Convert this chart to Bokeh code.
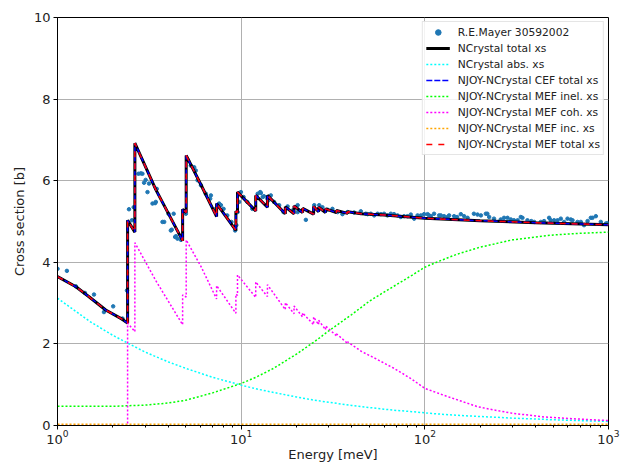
from bokeh.plotting import figure
from bokeh.models import FixedTicker, Legend
from bokeh.embed import file_html
from bokeh.resources import INLINE

# --- measured points (R.E.Mayer 30592002) --------------------------------
mayer_energy = [
    1.00, 1.125, 1.26, 1.41, 1.58, 1.79, 2.01, 2.26, 2.39, 2.45, 2.54, 2.60,
    2.76, 2.84, 2.90, 2.96, 3.02, 3.09, 3.15, 3.29, 3.40, 3.43, 3.47, 3.73,
    3.81, 4.02, 4.14, 4.19, 4.29, 4.37, 4.41, 4.50, 4.70,
    5.00, 5.14, 5.32, 5.55, 5.66, 5.79, 6.04, 6.42, 6.78, 6.84, 7.28, 7.59,
    7.76, 8.02, 8.40, 8.85, 9.27, 9.41, 9.56, 9.75, 9.97, 10.3, 10.8, 11.5,
    12.3, 12.7, 12.8, 13.1, 13.3, 13.9, 14.1, 14.5, 15.1, 16.1, 17.0, 17.9,
    19.05, 20.3, 20.3, 22.5, 25.0, 26.6, 27.7, 29.5, 31.4, 33.5, 35.6, 37.9,
    41.2, 44.8, 47.7, 48.8, 50.8, 53.0, 55.3, 57.6, 60.0, 62.6, 65.3, 68.0,
    71.0, 74.0, 77.1, 80.5, 83.9, 87.5, 91.3, 95.1, 99.1, 103.5, 105.5, 107.8,
    112.3, 119.6, 122.2, 127.4, 133.0, 135.6, 144.4, 150.0, 157.0, 163.7, 171.0,
    185.0, 193.6, 202.0, 214.8, 219.0, 224.0, 238.0, 259.0, 270.0, 282.0, 294.0,
    306.0, 320.0, 333.0, 340.0, 362.0, 380.0, 394.0, 428.0, 446.0, 475.0, 485.0,
    506.0, 528.0, 550.0, 573.0, 598.0, 623.0, 637.0, 678.0, 707.0, 736.0, 769.0,
    801.0, 818.0, 853.0, 908.0, 967.0, 988.0,
]
mayer_xs = [
    3.84, 3.79, 3.41, 3.25, 3.21, 2.78, 2.92, 2.62, 3.31, 5.30, 5.03, 5.35,
    6.17, 6.18, 6.17, 5.95, 6.02, 5.72, 5.93, 5.44, 5.45, 5.48, 5.80, 4.99,
    4.99, 5.19, 4.78, 4.80, 5.19, 4.62, 4.64, 4.58, 4.55,
    5.19, 6.50, 6.37, 6.33, 6.25, 6.01, 5.89, 5.68, 5.56, 5.64, 5.31, 5.44,
    5.40, 5.31, 5.15, 4.99, 4.78, 4.91, 5.23, 5.48, 5.72, 5.60, 5.48, 5.31,
    5.68, 5.72, 5.70, 5.60, 5.62, 5.56, 5.52, 5.64, 5.48, 5.40, 5.23, 5.37,
    5.27, 5.23, 5.40, 5.04, 5.40, 5.40, 5.35, 5.29, 5.31, 5.23, 5.18, 5.23,
    5.22, 5.25, 5.19, 5.18, 5.19, 5.15, 5.19, 5.18, 5.19, 5.15, 5.19, 5.18,
    5.15, 5.11, 5.13, 5.13, 5.17, 5.07, 5.15, 5.15, 5.18, 5.18, 5.15, 5.13,
    5.19, 5.15, 5.15, 5.13, 5.11, 5.15, 5.13, 5.11, 5.18, 5.13, 5.09,
    5.19, 5.17, 5.15, 5.19, 5.19, 5.11, 5.07, 5.05, 5.09, 5.09, 5.05,
    5.03, 5.03, 5.11, 5.09, 5.03, 5.01, 4.99, 4.99, 5.01, 5.09, 5.03,
    5.03, 5.03, 5.07, 4.99, 5.07, 5.05, 5.03, 4.99, 4.99, 4.91, 5.01,
    5.09, 5.09, 5.13, 4.99, 4.95, 4.96,
]

# --- NCrystal total cross section (Bragg edges as vertical steps) --------
total_energy = [
    1.00, 1.26, 1.49, 1.83, 2.26, 2.408, 2.408, 2.638, 2.638, 3.43, 4.80, 4.80,
    5.02, 5.02, 6.04, 7.35, 7.35, 9.36, 9.36, 9.55, 9.55, 12.0, 12.0, 13.9,
    13.9, 17.4, 17.4, 19.4, 19.4, 21.6, 21.6, 24.8, 24.8, 26.4, 26.4, 28.8,
    28.8, 33.0, 33.0, 38.0, 38.0, 45.0, 60.0, 100.0, 200.0, 400.0, 1000.0,
]
total_xs = [
    3.65, 3.40, 3.15, 2.83, 2.60, 2.51, 5.03, 4.74, 6.92, 5.78, 4.53, 5.30,
    5.22, 6.62, 5.90, 5.12, 5.44, 4.78, 5.25, 5.22, 5.72, 5.26, 5.64, 5.35,
    5.64, 5.19, 5.36, 5.19, 5.38, 5.22, 5.32, 5.18, 5.37, 5.24, 5.35, 5.22,
    5.31, 5.22, 5.27, 5.20, 5.24, 5.19, 5.16, 5.08, 5.02, 4.97, 4.92,
]
# the NJOY-processed totals coincide with NCrystal's own total
njoy_cef_total_xs = total_xs
njoy_mef_total_xs = total_xs

# --- smooth partial cross sections ----------------------------------------
smooth_energy = [
    1.0, 1.5, 2.0, 3.0, 4.0, 5.0, 7.0, 10.0, 12.0, 15.0, 20.0, 25.0, 30.0,
    40.0, 50.0, 60.0, 70.0, 85.0, 100.0, 120.0, 150.0, 200.0, 250.0, 300.0,
    400.0, 500.0, 700.0, 1000.0,
]
abs_xs = [
    3.12, 2.55, 2.21, 1.80, 1.56, 1.40, 1.18, 0.99, 0.90, 0.81, 0.70, 0.62,
    0.57, 0.49, 0.44, 0.40, 0.37, 0.34, 0.31, 0.28, 0.25, 0.22, 0.20, 0.18,
    0.16, 0.14, 0.12, 0.10,
]
inel_xs = [
    0.47, 0.47, 0.47, 0.50, 0.55, 0.62, 0.80, 1.03, 1.18, 1.40, 1.75, 2.05,
    2.32, 2.72, 3.05, 3.27, 3.45, 3.68, 3.88, 4.03, 4.20, 4.37, 4.47, 4.55,
    4.62, 4.67, 4.71, 4.74,
]
inc_xs = [
    0.03, 0.03, 0.03, 0.03, 0.03, 0.03, 0.03, 0.03, 0.03, 0.03, 0.03, 0.03,
    0.03, 0.03, 0.03, 0.03, 0.03, 0.03, 0.03, 0.03, 0.03, 0.03, 0.03, 0.03,
    0.03, 0.03, 0.03, 0.03,
]

# --- coherent elastic part -------------------------------------------------
coh_energy = [
    1.00, 2.408, 2.408, 2.638, 2.638, 3.43, 4.80, 4.80, 5.02, 5.02, 6.04, 7.35,
    7.35, 9.36, 9.36, 9.55, 9.55, 12.0, 12.0, 13.9, 13.9, 17.4, 17.4, 19.4,
    19.4, 21.6, 21.6, 24.8, 24.8, 26.4, 26.4, 28.8, 28.8, 33.0, 33.0, 38.0,
    38.0, 45.0, 55.0, 68.0, 84.0, 100.0, 127.0, 157.0, 194.0, 238.0, 300.0,
    446.0, 678.0, 1000.0,
]
coh_xs = [
    0.00, 0.00, 2.51, 2.30, 4.48, 3.55, 2.47, 3.20, 3.15, 4.55, 3.90, 3.10,
    3.43, 2.75, 3.22, 3.19, 3.69, 3.14, 3.52, 3.16, 3.45, 2.84, 3.01, 2.74,
    2.93, 2.66, 2.76, 2.47, 2.66, 2.47, 2.58, 2.35, 2.44, 2.20, 2.25, 2.01,
    2.05, 1.82, 1.62, 1.40, 1.15, 0.91, 0.74, 0.60, 0.46, 0.38, 0.30,
    0.21, 0.16, 0.12,
]

y_ticks = [0, 2, 4, 6, 8, 10]
x_ticks = [1, 10, 100, 1000]
x_minor = [2, 3, 4, 5, 6, 7, 8, 9, 20, 30, 40, 50, 60, 70, 80, 90,
           200, 300, 400, 500, 600, 700, 800, 900]

FONT = "DejaVu Sans"

p = figure(
    width=621, height=465, x_axis_type="log",
    x_range=(1, 1000), y_range=(0, 10),
    output_backend="svg", toolbar_location=None,
    min_border_left=57, min_border_right=13,
    min_border_top=17, min_border_bottom=40,
)
p.background_fill_color = "white"
p.border_fill_color = "white"
p.outline_line_color = "black"
p.outline_line_width = 1

p.xgrid.grid_line_color = "#b0b0b0"
p.ygrid.grid_line_color = "#b0b0b0"
p.xgrid.grid_line_width = 1
p.ygrid.grid_line_width = 1

p.xaxis.ticker = FixedTicker(ticks=x_ticks, minor_ticks=x_minor)
p.yaxis.ticker = FixedTicker(ticks=y_ticks)

for ax in (p.xaxis[0], p.yaxis[0]):
    ax.axis_line_color = "black"
    ax.major_tick_in = 0
    ax.major_tick_out = 4
    ax.minor_tick_in = 0
    ax.minor_tick_out = 2
    ax.major_label_text_font = FONT
    ax.major_label_text_font_size = "13px"
    ax.major_label_text_color = "#222222"
    ax.axis_label_text_font = FONT
    ax.axis_label_text_font_size = "13px"
    ax.axis_label_text_font_style = "normal"
    ax.axis_label_text_color = "#222222"

p.xaxis.major_label_standoff = 0
p.xaxis.axis_label_standoff = 0
p.yaxis.major_label_standoff = 3
p.yaxis.axis_label_standoff = 4

p.xaxis.axis_label = "Energy [meV]"
p.yaxis.axis_label = "Cross section [b]"

r_mayer = p.scatter(mayer_energy, mayer_xs, size=3.5, color="#1f77b4")
r_total = p.line(total_energy, total_xs, line_color="black", line_width=3)
r_abs = p.line(smooth_energy, abs_xs, line_color="cyan", line_width=1.5,
               line_dash="2 2")
r_cef = p.line(total_energy, njoy_cef_total_xs, line_color="blue",
               line_width=1.5, line_dash="6 2")
r_inel = p.line(smooth_energy, inel_xs, line_color="lime", line_width=1.5,
                line_dash="2 2")
r_coh = p.line(coh_energy, coh_xs, line_color="magenta", line_width=1.5,
               line_dash="2 2")
r_inc = p.line(smooth_energy, inc_xs, line_color="orange", line_width=1.5,
               line_dash="2 2")
r_mef = p.line(total_energy, njoy_mef_total_xs, line_color="red",
               line_width=1.5, line_dash="6 6")

legend = Legend(
    items=[
        ("R.E.Mayer 30592002", [r_mayer]),
        ("NCrystal total xs", [r_total]),
        ("NCrystal abs. xs", [r_abs]),
        ("NJOY-NCrystal CEF total xs", [r_cef]),
        ("NJOY-NCrystal MEF inel. xs", [r_inel]),
        ("NJOY-NCrystal MEF coh. xs", [r_coh]),
        ("NJOY-NCrystal MEF inc. xs", [r_inc]),
        ("NJOY-NCrystal MEF total xs", [r_mef]),
    ],
    location="top_right",
)
legend.label_text_font = FONT
legend.label_text_font_size = "10.7px"
legend.label_text_color = "#222222"
legend.glyph_width = 24
legend.glyph_height = 14
legend.label_height = 14
legend.spacing = 2
legend.padding = 3
legend.margin = 4
legend.label_standoff = 8
legend.border_line_color = "#cccccc"
legend.border_line_width = 1
legend.background_fill_alpha = 0.85
p.add_layout(legend)

open("out.html", "w").write(file_html(p, INLINE))
